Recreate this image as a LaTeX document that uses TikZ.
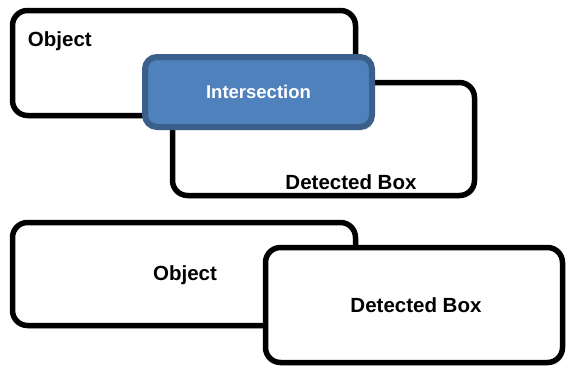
\documentclass[tikz,border=0pt]{standalone}
\usepackage{fontspec}
\setmainfont{Liberation Sans}
\usetikzlibrary{positioning,calc,shadows}
\definecolor{isecfill}{HTML}{4F81BD}
\definecolor{isecdraw}{HTML}{3A5F8B}

\begin{document}
\begin{tikzpicture}[
    x=1pt, y=-1pt,
    box/.style={
      draw=black, line width=5.5pt,
      rounded corners=15pt,
      fill=white, inner sep=0pt,
      drop shadow={opacity=0.2, shadow xshift=2pt, shadow yshift=-3pt}
    },
    isec/.style={
      draw=isecdraw, line width=6pt,
      rounded corners=12pt,
      fill=isecfill, inner sep=0pt,
      drop shadow={opacity=0.3, shadow xshift=2pt, shadow yshift=-3pt}
    },
    lbl/.style={font=\fontsize{20.5}{24}\selectfont\bfseries, inner sep=0pt}
  ]
  \useasboundingbox (0,0) rectangle (566,367);

  % Overlapping boxes
  \node[box, minimum width=343pt, minimum height=105pt] (obj1) at (184,63) {};
  \node[box, minimum width=302pt, minimum height=113pt] (det1) at (323.5,139) {};
  \node[isec, minimum width=227pt, minimum height=70pt] (isec) at (258.5,92)
    {\color{white}\fontsize{18.5}{22}\selectfont\bfseries Intersection};
  \node[lbl, anchor=west] (objtxt1) at ($(obj1.north west)+(18,33)$) {Object};
  \node[lbl] (dettxt1) at (351,182) {Detected Box};

  % Separate boxes
  \node[box, minimum width=343pt, minimum height=103pt] (obj2) at (184,274) {};
  \node[box, minimum width=297pt, minimum height=115pt] (det2) at (414,305) {};
  \node[lbl] (objtxt2) at (185,275) {Object};
  \node[lbl] (dettxt2) at (416,305) {Detected Box};

\end{tikzpicture}
\end{document}
